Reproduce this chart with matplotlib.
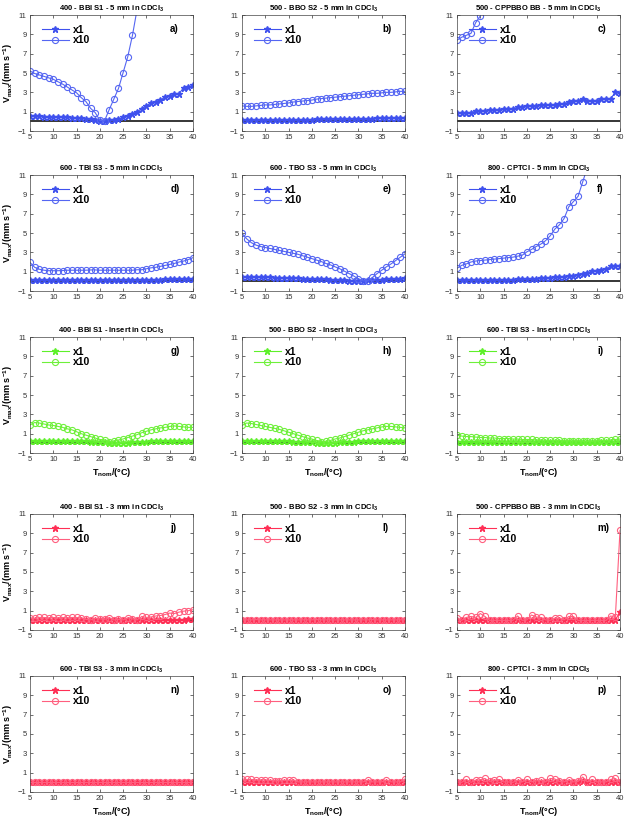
import matplotlib
matplotlib.use("Agg")
import matplotlib.pyplot as plt

plt.rcParams['font.family'] = ['Liberation Sans', 'DejaVu Sans']
plt.rcParams['mathtext.fontset'] = 'custom'
plt.rcParams['mathtext.rm'] = 'Liberation Sans:bold'
plt.rcParams['mathtext.it'] = 'Liberation Sans:bold'
plt.rcParams['mathtext.bf'] = 'Liberation Sans:bold'

temps = list(range(5, 41))

titles = [
    "400 - BBI S1 - 5 mm in CDCl$_3$", "500 - BBO S2 - 5 mm in CDCl$_3$", "500 - CPPBBO BB - 5 mm in CDCl$_3$",
    "600 - TBI S3 - 5 mm in CDCl$_3$", "600 - TBO S3 - 5 mm in CDCl$_3$", "800 - CPTCI - 5 mm in CDCl$_3$",
    "400 - BBI S1 - Insert in CDCl$_3$", "500 - BBO S2 - Insert in CDCl$_3$", "600 - TBI S3 - Insert in CDCl$_3$",
    "400 - BBI S1 - 3 mm in CDCl$_3$", "500 - BBO S2 - 3 mm in CDCl$_3$", "500 - CPPBBO BB - 3 mm in CDCl$_3$",
    "600 - TBI S3 - 3 mm in CDCl$_3$", "600 - TBO S3 - 3 mm in CDCl$_3$", "800 - CPTCI - 3 mm in CDCl$_3$",
]
panel_letters = ["a)", "b)", "c)", "d)", "e)", "f)", "g)", "h)", "i)", "j)", "l)", "m)", "n)", "o)", "p)"]

a_x1 = [0.55, 0.55, 0.52, 0.5, 0.5, 0.48, 0.45, 0.42, 0.4, 0.38, 0.35, 0.3, 0.25, 0.2, 0.12, 0.05, 0.0, 0.1,
        0.15, 0.25, 0.4, 0.6, 0.8, 1.0, 1.3, 1.6, 1.9, 2.0, 2.2, 2.5, 2.6, 2.8, 2.85, 3.5, 3.55, 3.75]
a_x10 = [5.2, 4.95, 4.8, 4.65, 4.5, 4.35, 4.1, 3.85, 3.55, 3.25, 2.95, 2.45, 2.05, 1.35, 0.9, 0.1, 0.05, 1.2,
         2.3, 3.4, 5.05, 6.7, 8.9, 11.6, 14.5, 17.0, 20.0, 23.0, 26.0, 29.0, 32.0, 35.0, 38.0, 41.0, 44.0, 47.0]
b_x1 = [0.15, 0.15, 0.15, 0.15, 0.15, 0.15, 0.15, 0.15, 0.15, 0.15, 0.15, 0.15, 0.15, 0.15, 0.18, 0.18, 0.2, 0.2,
        0.2, 0.2, 0.22, 0.22, 0.22, 0.22, 0.22, 0.22, 0.22, 0.22, 0.25, 0.3, 0.3, 0.3, 0.3, 0.32, 0.32, 0.35]
b_x10 = [1.6, 1.55, 1.55, 1.6, 1.65, 1.7, 1.7, 1.75, 1.8, 1.85, 1.9, 2.0, 2.05, 2.1, 2.15, 2.2, 2.3, 2.35,
         2.4, 2.45, 2.5, 2.55, 2.6, 2.65, 2.7, 2.75, 2.8, 2.85, 2.9, 2.9, 2.95, 3.0, 3.0, 3.05, 3.1, 3.1]
c_x1 = [0.85, 0.85, 0.85, 0.9, 1.05, 1.1, 1.1, 1.15, 1.2, 1.2, 1.25, 1.25, 1.3, 1.45, 1.5, 1.55, 1.6, 1.6,
        1.65, 1.65, 1.7, 1.7, 1.75, 1.75, 2.05, 2.1, 2.1, 2.35, 2.15, 2.15, 2.1, 2.3, 2.3, 2.35, 3.0, 2.9]
c_x10 = [8.4, 8.7, 8.9, 9.1, 10.2, 10.9, 12.1, 13.0, 13.8, 14.5, 15.3, 16.0, 16.8, 17.5, 18.2, 19.0, 19.7, 20.5,
         21.2, 22.0, 22.8, 23.5, 24.3, 25.0, 25.8, 26.5, 27.3, 28.0, 28.8, 29.5, 30.3, 31.0, 31.8, 32.5, 33.3, 34.0]
d_x1 = [0.15, 0.15, 0.15, 0.15, 0.15, 0.15, 0.15, 0.15, 0.15, 0.15, 0.15, 0.15, 0.15, 0.15, 0.15, 0.15, 0.15, 0.15,
        0.15, 0.15, 0.15, 0.15, 0.15, 0.15, 0.15, 0.15, 0.15, 0.15, 0.15, 0.2, 0.2, 0.22, 0.22, 0.25, 0.28, 0.25]
d_x10 = [1.95, 1.45, 1.25, 1.15, 1.1, 1.1, 1.1, 1.12, 1.15, 1.15, 1.15, 1.15, 1.15, 1.18, 1.18, 1.15, 1.15, 1.15,
         1.15, 1.15, 1.15, 1.15, 1.15, 1.2, 1.2, 1.3, 1.4, 1.45, 1.55, 1.65, 1.75, 1.85, 2.0, 2.1, 2.25, 2.45]
e_x1 = [0.5, 0.48, 0.45, 0.45, 0.42, 0.4, 0.4, 0.38, 0.36, 0.35, 0.33, 0.3, 0.3, 0.28, 0.25, 0.25, 0.22, 0.2,
        0.2, 0.18, 0.15, 0.12, 0.1, 0.08, 0.05, 0.03, 0.05, 0.1, 0.12, 0.15, 0.18, 0.2, 0.22, 0.25, 0.28, 0.3]
e_x10 = [4.95, 4.4, 4.0, 3.75, 3.6, 3.5, 3.4, 3.3, 3.2, 3.1, 3.0, 2.9, 2.8, 2.65, 2.5, 2.35, 2.2, 2.05,
         1.85, 1.7, 1.5, 1.3, 1.05, 0.8, 0.55, 0.25, 0.05, 0.05, 0.4, 0.8, 1.15, 1.5, 1.8, 2.15, 2.5, 2.85]
f_x1 = [0.1, 0.1, 0.12, 0.12, 0.12, 0.12, 0.15, 0.15, 0.15, 0.15, 0.15, 0.18, 0.18, 0.2, 0.2, 0.22, 0.25, 0.25,
        0.3, 0.32, 0.35, 0.4, 0.45, 0.5, 0.55, 0.6, 0.7, 0.8, 0.9, 1.05, 1.1, 1.2, 1.25, 1.55, 1.6, 1.6]
f_x10 = [1.35, 1.65, 1.8, 2.0, 2.1, 2.15, 2.2, 2.25, 2.3, 2.35, 2.4, 2.45, 2.5, 2.6, 2.7, 3.05, 3.3, 3.6,
         3.85, 4.2, 4.7, 5.4, 5.85, 6.5, 7.7, 8.25, 8.8, 10.3, 11.8, 13.0, 14.5, 16.0, 17.5, 19.0, 20.5, 22.0]
g_x1 = [0.2, 0.2, 0.2, 0.2, 0.2, 0.2, 0.2, 0.2, 0.2, 0.2, 0.2, 0.2, 0.2, 0.18, 0.15, 0.12, 0.1, 0.08,
        0.05, 0.05, 0.05, 0.08, 0.1, 0.12, 0.15, 0.18, 0.2, 0.2, 0.2, 0.2, 0.2, 0.2, 0.2, 0.2, 0.2, 0.2]
g_x10 = [1.9, 2.15, 2.1, 2.0, 1.9, 1.85, 1.75, 1.65, 1.5, 1.4, 1.2, 1.0, 0.85, 0.7, 0.55, 0.4, 0.35, 0.15,
         0.25, 0.35, 0.45, 0.6, 0.75, 0.9, 1.1, 1.25, 1.4, 1.5, 1.6, 1.65, 1.75, 1.8, 1.75, 1.7, 1.65, 1.65]
h_x1 = [0.2, 0.2, 0.2, 0.2, 0.2, 0.2, 0.2, 0.2, 0.2, 0.2, 0.2, 0.18, 0.18, 0.15, 0.12, 0.1, 0.08, 0.05,
        0.05, 0.05, 0.08, 0.1, 0.12, 0.15, 0.18, 0.2, 0.2, 0.2, 0.2, 0.2, 0.2, 0.2, 0.2, 0.2, 0.2, 0.2]
h_x10 = [1.85, 2.1, 2.05, 1.95, 1.85, 1.75, 1.65, 1.55, 1.45, 1.3, 1.15, 1.0, 0.85, 0.7, 0.55, 0.45, 0.3, 0.15,
         0.2, 0.3, 0.45, 0.55, 0.7, 0.85, 1.0, 1.15, 1.3, 1.4, 1.5, 1.6, 1.7, 1.75, 1.75, 1.7, 1.65, 1.6]
i_x1 = [0.12, 0.12, 0.12, 0.12, 0.12, 0.12, 0.12, 0.12, 0.12, 0.12, 0.12, 0.12, 0.12, 0.12, 0.12, 0.12, 0.12, 0.12,
        0.12, 0.12, 0.12, 0.12, 0.12, 0.12, 0.12, 0.12, 0.12, 0.12, 0.12, 0.12, 0.12, 0.12, 0.12, 0.12, 0.12, 0.12]
i_x10 = [0.85, 0.75, 0.7, 0.7, 0.65, 0.6, 0.6, 0.55, 0.55, 0.5, 0.5, 0.5, 0.45, 0.45, 0.4, 0.4, 0.4, 0.35,
         0.35, 0.3, 0.3, 0.3, 0.3, 0.25, 0.25, 0.25, 0.25, 0.2, 0.2, 0.2, 0.25, 0.3, 0.3, 0.35, 0.4, 0.45]
j_x1 = [0.05, 0.05, 0.05, 0.05, 0.05, 0.05, 0.05, 0.05, 0.05, 0.05, 0.05, 0.05, 0.03, 0.03, 0.03, 0.03, 0.03, 0.03,
        0.03, 0.03, 0.03, 0.03, 0.03, 0.03, 0.05, 0.05, 0.05, 0.05, 0.05, 0.06, 0.06, 0.07, 0.08, 0.08, 0.1, 0.1]
j_x10 = [0.25, 0.2, 0.3, 0.3, 0.25, 0.3, 0.25, 0.3, 0.25, 0.3, 0.3, 0.25, 0.1, 0.05, 0.2, 0.15, 0.1, 0.25,
         0.05, 0.1, 0.05, 0.25, 0.15, 0.05, 0.4, 0.3, 0.35, 0.45, 0.5, 0.6, 0.75, 0.7, 0.85, 0.95, 1.0, 1.1]
l_x1 = [0.02, 0.02, 0.02, 0.02, 0.02, 0.02, 0.02, 0.02, 0.02, 0.02, 0.02, 0.02, 0.02, 0.02, 0.02, 0.02, 0.02, 0.02,
        0.02, 0.02, 0.02, 0.02, 0.02, 0.02, 0.02, 0.02, 0.02, 0.02, 0.02, 0.02, 0.02, 0.02, 0.02, 0.02, 0.02, 0.02]
l_x10 = [0.05, 0.05, 0.05, 0.08, 0.05, 0.05, 0.05, 0.05, 0.05, 0.05, 0.05, 0.05, 0.05, 0.05, 0.05, 0.05, 0.08, 0.05,
         0.05, 0.05, 0.05, 0.05, 0.05, 0.05, 0.05, 0.05, 0.05, 0.05, 0.08, 0.05, 0.05, 0.05, 0.05, 0.05, 0.05, 0.08]
m_x1 = [0.02, 0.02, 0.02, 0.02, 0.02, 0.02, 0.02, 0.02, 0.02, 0.02, 0.02, 0.02, 0.02, 0.02, 0.02, 0.02, 0.02, 0.02,
        0.02, 0.02, 0.02, 0.02, 0.02, 0.02, 0.02, 0.02, 0.02, 0.02, 0.02, 0.02, 0.02, 0.02, 0.02, 0.02, 0.02, 0.9]
m_x10 = [0.2, 0.0, 0.3, 0.4, 0.3, 0.7, 0.4, 0.0, 0.0, 0.0, 0.0, 0.0, 0.0, 0.45, 0.0, 0.05, 0.55, 0.35,
         0.3, 0.05, 0.0, 0.2, 0.2, 0.05, 0.4, 0.4, 0.0, 0.0, 0.0, 0.0, 0.0, 0.0, 0.0, 0.45, 0.3, 9.3]
n_x1 = [0.0, 0.0, 0.0, 0.0, 0.0, 0.0, 0.0, 0.0, 0.0, 0.0, 0.0, 0.0, 0.0, 0.0, 0.0, 0.0, 0.0, 0.0,
        0.0, 0.0, 0.0, 0.0, 0.0, 0.0, 0.0, 0.0, 0.0, 0.0, 0.0, 0.0, 0.0, 0.0, 0.0, 0.0, 0.0, 0.0]
n_x10 = [0.0, 0.0, 0.0, 0.0, 0.0, 0.0, 0.0, 0.0, 0.0, 0.0, 0.0, 0.0, 0.0, 0.0, 0.0, 0.0, 0.0, 0.0,
         0.0, 0.0, 0.0, 0.0, 0.0, 0.0, 0.0, 0.0, 0.0, 0.0, 0.0, 0.0, 0.0, 0.0, 0.0, 0.0, 0.0, 0.0]
o_x1 = [0.03, 0.03, 0.03, 0.03, 0.03, 0.03, 0.03, 0.03, 0.03, 0.03, 0.03, 0.03, 0.02, 0.02, 0.02, 0.02, 0.02, 0.02,
        0.02, 0.02, 0.02, 0.02, 0.02, 0.02, 0.02, 0.02, 0.02, 0.02, 0.02, 0.02, 0.02, 0.02, 0.02, 0.02, 0.02, 0.02]
o_x10 = [0.35, 0.3, 0.3, 0.25, 0.25, 0.25, 0.2, 0.15, 0.15, 0.2, 0.2, 0.2, 0.05, 0.05, 0.05, 0.05, 0.05, 0.05,
         0.05, 0.05, 0.05, 0.05, 0.05, 0.05, 0.05, 0.05, 0.05, 0.2, 0.05, 0.05, 0.05, 0.2, 0.05, 0.05, 0.05, 0.35]
p_x1 = [0.02, 0.02, 0.02, 0.02, 0.02, 0.02, 0.02, 0.02, 0.02, 0.02, 0.02, 0.02, 0.02, 0.02, 0.02, 0.02, 0.02, 0.02,
        0.02, 0.02, 0.02, 0.02, 0.02, 0.02, 0.02, 0.02, 0.02, 0.1, 0.02, 0.02, 0.02, 0.02, 0.02, 0.02, 0.02, 0.02]
p_x10 = [0.05, 0.0, 0.3, 0.0, 0.2, 0.25, 0.4, 0.1, 0.2, 0.3, 0.05, 0.05, 0.0, 0.2, 0.05, 0.3, 0.05, 0.15,
         0.2, 0.05, 0.4, 0.35, 0.1, 0.05, 0.25, 0.05, 0.1, 0.55, 0.05, 0.3, 0.05, 0.05, 0.05, 0.3, 0.4, 0.05]

series_x1 = [a_x1, b_x1, c_x1, d_x1, e_x1, f_x1, g_x1, h_x1, i_x1, j_x1, l_x1, m_x1, n_x1, o_x1, p_x1]
series_x10 = [a_x10, b_x10, c_x10, d_x10, e_x10, f_x10, g_x10, h_x10, i_x10, j_x10, l_x10, m_x10, n_x10, o_x10, p_x10]

colors_x1 = ['#3f51ee'] * 6 + ['#5ef02a'] * 3 + ['#ff2f55'] * 6
colors_x10 = ['#5566f2'] * 6 + ['#6ef03a'] * 3 + ['#ff5f7f'] * 6

xticks = [5, 10, 15, 20, 25, 30, 35, 40]
yticks = [-1, 1, 3, 5, 7, 9, 11]

fig = plt.figure(figsize=(6.25, 8.19), dpi=100)
W, H = 625.0, 819.0
col_left = [30, 242, 457]
col_w = 163
row_top = [15, 175, 337, 514, 676]
row_h = 116

for k in range(15):
    r, c = divmod(k, 3)
    ax = fig.add_axes([col_left[c] / W, 1 - (row_top[r] + row_h) / H, col_w / W, row_h / H])
    ax.plot(temps, series_x1[k], '-', marker='*', color=colors_x1[k], lw=0.8, ms=4.8,
            label='x1', clip_on=True)
    ax.plot(temps, series_x10[k], '-', marker='o', color=colors_x10[k], lw=0.8, ms=4.4,
            mfc='none', mew=0.8, label='x10', clip_on=True)
    ax.axhline(0, color='black', lw=1.1, zorder=1)
    ax.set_xlim(5, 40)
    ax.set_ylim(-1, 11)
    ax.set_xticks(xticks)
    ax.set_yticks(yticks)
    ax.tick_params(direction='in', length=2.5, width=0.5, labelsize=5.5, colors='#333333',
                   top=True, right=True, pad=2.5)
    for s in ax.spines.values():
        s.set_linewidth(0.5)
        s.set_color('#444444')
    ax.set_title(titles[k], fontsize=5.5, fontweight='bold', pad=3)
    ax.legend(loc='upper left', bbox_to_anchor=(0.035, 0.97), frameon=False,
              handlelength=2.6, handletextpad=0.35, labelspacing=0.05, borderaxespad=0.2,
              prop={'size': 7.5, 'weight': 'bold'})
    ax.text(0.86, 0.88, panel_letters[k], transform=ax.transAxes, fontsize=7,
            fontweight='bold', ha='left', va='center')
    if c == 0:
        ax.set_ylabel(r"V$_{max}$/(mm s$^{-1}$)", fontsize=6.5, fontweight='bold', labelpad=2)
    if r in (2, 4):
        ax.set_xlabel(r"T$_{nom}$/(°C)", fontsize=6.5, fontweight='bold', labelpad=2)

fig.savefig("out.png", dpi=100)
